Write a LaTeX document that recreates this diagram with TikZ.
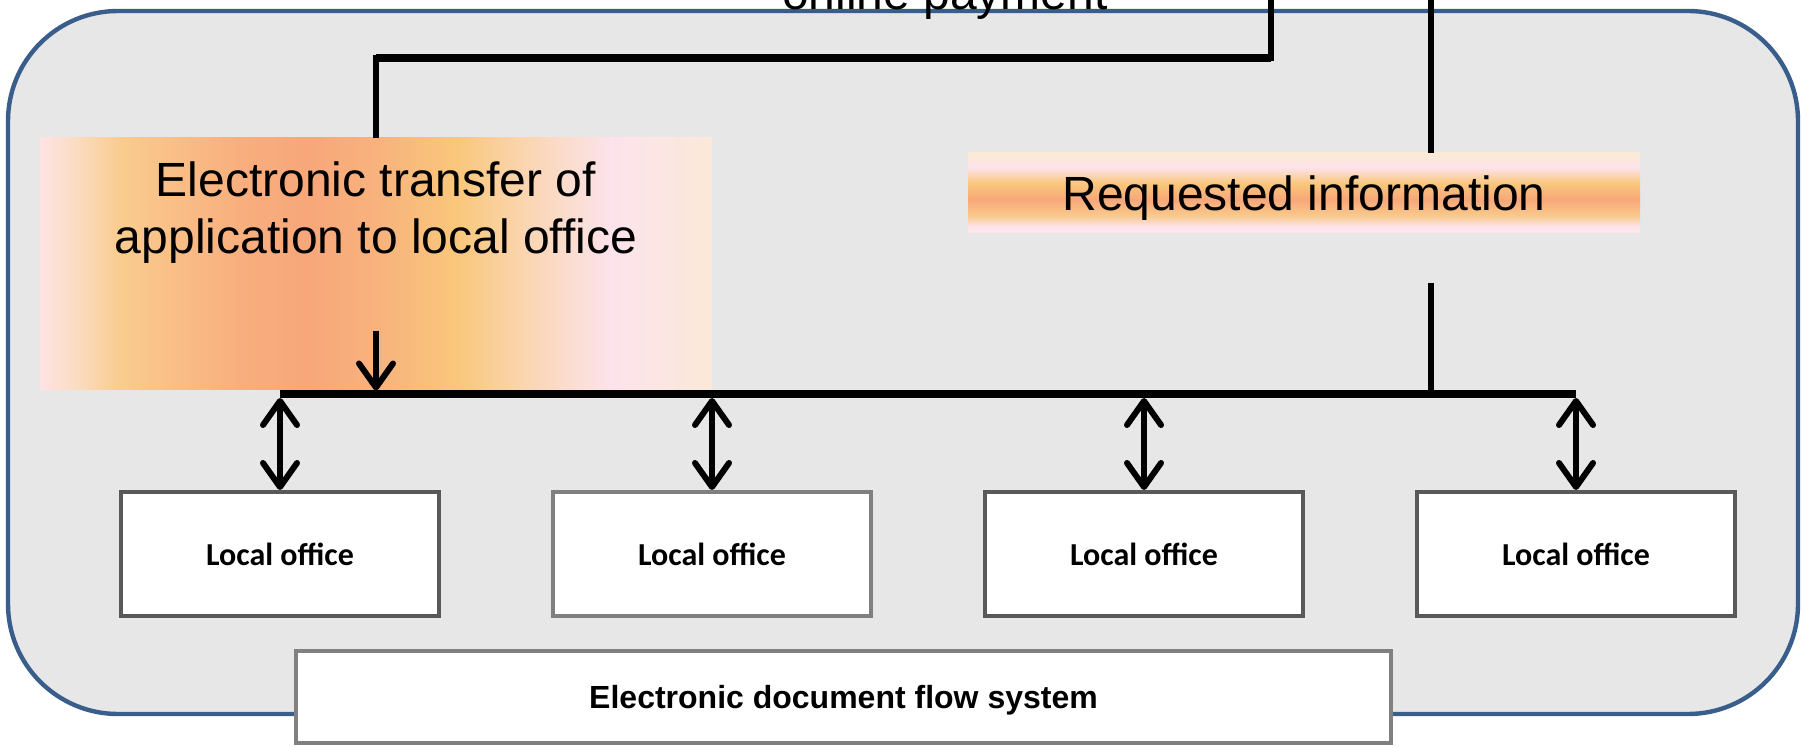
\documentclass[tikz,border=0pt]{standalone}
\usepackage{fontspec}
\setmainfont{Liberation Sans}
\newfontfamily\officefont{Carlito}
\usetikzlibrary{arrows.meta,calc}

\definecolor{panelgray}{HTML}{E7E7E7}
\definecolor{panelblue}{HTML}{3A5E8C}
\definecolor{darkedge}{HTML}{595959}
\definecolor{lightedge}{HTML}{808080}
\definecolor{shpink}{HTML}{FDE3E3}
\definecolor{shpeach}{HTML}{FBDDC5}
\definecolor{shyellow}{HTML}{F9CC8E}
\definecolor{shsalmonA}{HTML}{F8AE7E}
\definecolor{shsalmon}{HTML}{F7A77A}
\definecolor{shsalmonB}{HTML}{F8B27D}
\definecolor{shorange}{HTML}{F9C77B}
\definecolor{shcreamA}{HTML}{FAD5B0}
\definecolor{shwhite}{HTML}{FCE3EC}
\definecolor{shcream}{HTML}{FBE8D8}
\definecolor{shtop}{HTML}{FBEBD3}
\definecolor{shbottom}{HTML}{FDE6E6}
\definecolor{shlight}{HTML}{F9C98A}

\pgfdeclarehorizontalshading{transfershade}{100bp}{color(0bp)=(shpink); color(25bp)=(shpink);
  color(27.5bp)=(shpeach); color(31bp)=(shyellow); color(40bp)=(shsalmonA); color(45bp)=(shsalmon);
  color(50bp)=(shsalmonB); color(56bp)=(shorange); color(61bp)=(shcreamA); color(67.5bp)=(shwhite);
  color(75bp)=(shcream); color(100bp)=(shcream)}
\pgfdeclareverticalshading{requestshade}{100bp}{color(0bp)=(shbottom); color(25bp)=(shbottom);
  color(29bp)=(shwhite); color(36bp)=(shlight); color(46bp)=(shsalmon); color(56bp)=(shorange);
  color(66bp)=(shwhite); color(75bp)=(shtop); color(100bp)=(shtop)}

\begin{document}
\begin{tikzpicture}[x=0.5pt,y=-0.5pt,
    link/.style={draw=black,line width=3pt},
    twoway/.style={draw=black,line width=3pt,{Straight Barb[length=12pt,width=17pt,round]}-{Straight Barb[length=12pt,width=17pt,round]}},
    oneway/.style={draw=black,line width=3pt,-{Straight Barb[length=12pt,width=17pt,round]}},
    officebox/.style={draw=darkedge,line width=2pt,fill=white,minimum width=159pt,minimum height=62pt,inner sep=0pt,text depth=0pt,font=\officefont\bfseries\fontsize{16}{19}\selectfont},
    bigtext/.style={font=\fontsize{24}{28.5}\selectfont,inner sep=0pt}]
        \useasboundingbox (0,0) rectangle (1807,747);
        \draw[draw=panelblue,fill=panelgray,line width=2.2pt,rounded corners=55pt] (8,11) rectangle (1798,714);
        \node[bigtext,anchor=base] (pay) at (945,10) {online payment};
        \node[shade,shading=transfershade,minimum width=336pt,minimum height=126pt,inner sep=0pt] (etr) at (376,264) {};
        \node[bigtext,align=center,anchor=north] (etrtext) at (376,161) {Electronic transfer of\\application to local office};
        \node[shade,shading=requestshade,minimum width=336pt,minimum height=40pt,bigtext,text depth=0pt] (req) at (1304,193) {Requested information};
        \coordinate (payout) at (1271,-20);
        \coordinate (payin) at (1431,-20);
        \coordinate (reqout) at (1431,283);
        \coordinate (etrdrop) at (376,331);
        \draw[link] (etr.north) |- (payout |- 0,58) -- (payout);
        \draw[draw=black,line width=4pt] (etr.north |- 0,58) -- (payout |- 0,58);
        \draw[link] (payin) -- (payin |- req.north);
        \draw[link] (reqout) -- (reqout |- 0,394);
        \foreach \i/\x/\edge in {1/280/darkedge,2/712/lightedge,3/1144/darkedge,4/1576/darkedge} {
            \node[officebox,draw=\edge] (office\i) at (\x,554) {Local office};
            \draw[twoway] (office\i.north |- 0,398) -- (office\i.north);
        }
        \draw[draw=black,line width=3.75pt] (office1.north |- 0,394) -- (office4.north |- 0,394);
        \draw[oneway] (etrdrop) -- (etrdrop |- 0,390.5);
        \node[draw=lightedge,line width=2pt,fill=white,minimum width=547.5pt,minimum height=46pt,inner sep=0pt,text depth=0pt,font=\bfseries\fontsize{16}{19}\selectfont] (edfs) at (843.5,697) {Electronic document flow system};
\end{tikzpicture}
\end{document}
